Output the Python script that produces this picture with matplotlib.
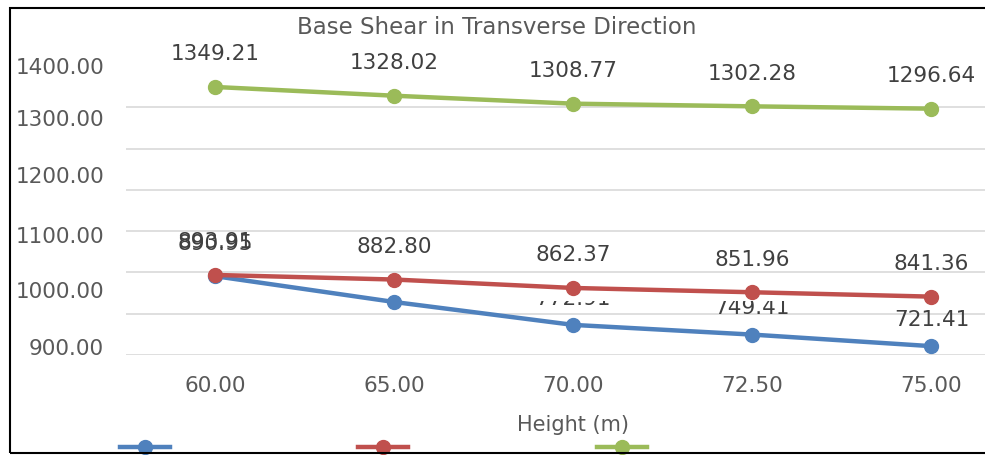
import matplotlib
matplotlib.use("Agg")
import matplotlib.pyplot as plt
from matplotlib.patches import Rectangle
from matplotlib.transforms import Bbox, TransformedBbox
from matplotlib.lines import Line2D

heights = ["60.00", "65.00", "70.00", "72.50", "75.00"]
series_blue = [890.95, 828.40, 772.91, 749.41, 721.41]
series_red = [893.91, 882.80, 862.37, 851.96, 841.36]
series_green = [1349.21, 1328.02, 1308.77, 1302.28, 1296.64]

# y labels as they sit in the picture (not on the gridlines)
ylabel_pos = [1400, 1274, 1136, 990, 857, 719]
ylabel_txt = ["1400.00", "1300.00", "1200.00", "1100.00", "1000.00", "900.00"]
grid_vals = [700, 800, 900, 1000, 1100, 1200, 1300, 1400]

c_blue = "#4F81BD"
c_red = "#C0504D"
c_green = "#9BBB59"
txt = "#404040"
fs = 15.5

fig = plt.figure(figsize=(9.85, 4.55), dpi=100)
ax = fig.add_axes([125.5/985, 100/455, 895.5/985, 289/455])

x = list(range(len(heights)))
for vals, col in [(series_blue, c_blue), (series_red, c_red), (series_green, c_green)]:
    ax.plot(x, vals, color=col, lw=3.2, marker="o", ms=10, clip_on=False, zorder=3)

ax.set_xlim(-0.5, 4.5)
ax.set_ylim(700, 1400)

# data labels (blue ones partly hidden behind the red labels, like the original)
hide = TransformedBbox(Bbox([[-1, 0], [10, 831]]), ax.transData)
for i, v in enumerate(series_blue):
    off = 23.4 if i == 0 else 19
    t = ax.annotate(f"{v:.2f}", (i, v), xytext=(0, off), textcoords="offset points",
                    ha="center", va="center", fontsize=fs, color=txt, zorder=4)
    if i in (1, 2, 3):
        t.set_clip_box(hide)
        t.set_clip_on(True)
for vals in (series_red, series_green):
    for i, v in enumerate(vals):
        ax.annotate(f"{v:.2f}", (i, v), xytext=(0, 23.4), textcoords="offset points",
                    ha="center", va="center", fontsize=fs, color=txt, zorder=4)

ax.set_yticks(ylabel_pos)
ax.set_yticklabels(ylabel_txt)
ax.set_yticks(grid_vals, minor=True)
ax.yaxis.grid(True, which="minor", color="#d9d9d9", lw=1.2)
ax.yaxis.grid(False, which="major")
ax.tick_params(axis="y", which="both", length=0, pad=15.5, labelsize=fs, labelcolor="#595959")
ax.set_xticks(x)
ax.set_xticklabels(heights)
ax.tick_params(axis="x", length=0, pad=15, labelsize=fs, labelcolor="#595959")
for s in ax.spines.values():
    s.set_visible(False)
ax.set_axisbelow(True)

ax.set_xlabel("Height (m)", fontsize=15, color="#595959")
ax.xaxis.set_label_coords(0.5, (355 - 415)/289)

fig.text(497/985, 1 - 28/455, "Base Shear in Transverse Direction",
         ha="center", va="center", fontsize=16.5, color="#595959")

handles = [Line2D([], [], color=c, lw=3.2, marker="o", ms=10) for c in (c_blue, c_red, c_green)]
fig.legend(handles, ["", "", ""], ncol=3, frameon=False, loc="center left",
           bbox_to_anchor=(120/985, 6/455), borderpad=0, borderaxespad=0,
           handlelength=2.33, handletextpad=0, columnspacing=8.74, fontsize=fs)

fig.patches.append(Rectangle((9.5/985, 2.5/455), 2.0, 445/455, transform=fig.transFigure,
                             fill=False, ec="black", lw=1.5, zorder=10))

fig.savefig("out.png", dpi=100)
